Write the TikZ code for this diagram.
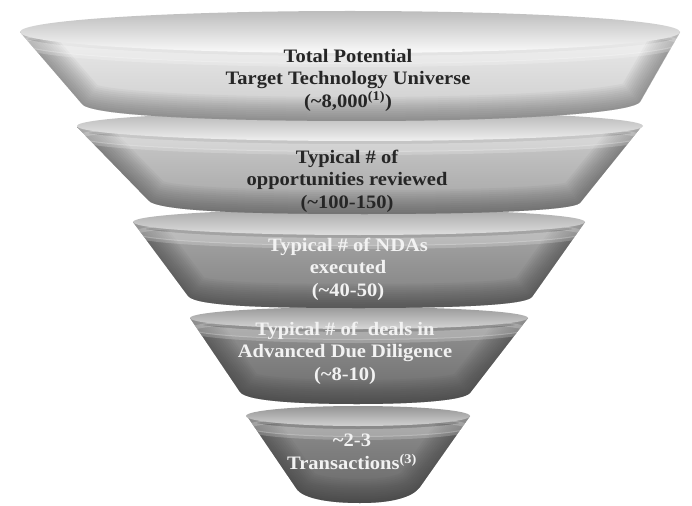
\documentclass[tikz,border=0pt]{standalone}
\usepackage{fontspec}
\setmainfont{Liberation Serif}[FakeStretch=1.08]
\begin{document}
\begin{tikzpicture}[x=1pt,y=-1pt,
  segtext/.style={align=center, inner sep=0pt,
    font={\fontsize{19}{22.5}\selectfont\bfseries}},
  darktext/.style={segtext, text=black!85},
  lighttext/.style={segtext, text=white!95!black},
  edgeshade/.style={draw=#1, opacity=0.055, line join=round}]

\useasboundingbox[fill=white] (0,0) rectangle (692,505);

% open outlines (left side, bottom, right side) of the five funnel layers
\def\pathA{(20,32) -- (82,104) .. controls (90,116) and (220,121) .. (360,121) .. controls (500,121) and (630,114) .. (640,102) -- (680,32)}
\def\pathB{(77,127) -- (148,200) .. controls (156,212) and (260,214) .. (365,214) .. controls (470,214) and (572,211) .. (580,203) -- (642,126)}
\def\pathC{(133,222) -- (188,296) .. controls (196,307) and (280,308) .. (360,308) .. controls (440,308) and (525,306) .. (532,297) -- (585,222)}
\def\pathD{(190,318) -- (240,392) .. controls (247,402) and (310,404) .. (357,404) .. controls (410,404) and (463,401) .. (470,393) -- (528,318)}
\def\pathE{(247,416) -- (296,488) .. controls (303,500) and (335,503) .. (360,503) .. controls (390,503) and (412,498) .. (420,487) -- (470,416)}

% one layer: body with darkened edges and a light streak under the rim,
% then the rim ellipse
% #1 outline, #2 body top, #3 body bottom, #4 edge colour,
% #5 rim centre, #6 rim radii, #7 rim top colour, #8 rim bottom colour
\newcommand\funnellayer[8]{%
  \begin{scope}
    \clip #1 -- cycle;
    \shade[top color=#2, bottom color=#3] #1 -- cycle;
    \foreach \w in {4,8,...,48} {\draw[edgeshade=#4, line width=\w] #1;}
    \draw[white, opacity=0.28, line width=8] ([yshift=-7pt]#5) ellipse (#6);
    \draw[white, opacity=0.2, line width=4] ([yshift=-12pt]#5) ellipse (#6);
  \end{scope}
  \shade[top color=#7, bottom color=#8] (#5) ellipse (#6);
}

\definecolor{edgeA}{HTML}{5A5A5A}
\definecolor{edgeB}{HTML}{4A4A4A}
\definecolor{edgeC}{HTML}{3A3A3A}

\funnellayer{\pathE}{black!44}{black!60}{edgeC}{358,416}{112 and 10}{black!42}{black!18}
\funnellayer{\pathD}{black!42}{black!58}{edgeC}{359,318}{169 and 11}{black!40}{black!16}
\funnellayer{\pathC}{black!34}{black!50}{edgeC}{359,222}{226 and 13}{black!34}{black!13}
\funnellayer{\pathB}{black!20}{black!36}{edgeB}{360,126}{283 and 15}{black!30}{black!6}
\funnellayer{\pathA}{black!8}{black!20}{edgeA}{350,32}{330 and 21}{black!26}{black!2}

% labels
\node[darktext] (t1) at (348,80) {Total Potential\\Target Technology Universe\\(\textasciitilde8,000\textsuperscript{(1)})};
\node[darktext] (t2) at (347,181) {Typical \# of\\opportunities reviewed\\(\textasciitilde100-150)};
\node[lighttext] (t3) at (348,269) {Typical \# of NDAs\\executed\\(\textasciitilde40-50)};
\node[lighttext] (t4) at (345,353) {Typical \# of\ \ deals in\\Advanced Due Diligence\\(\textasciitilde8-10)};
\node[lighttext] (t5) at (352,452) {\textasciitilde2-3\\Transactions\textsuperscript{(3)}};
\end{tikzpicture}
\end{document}
